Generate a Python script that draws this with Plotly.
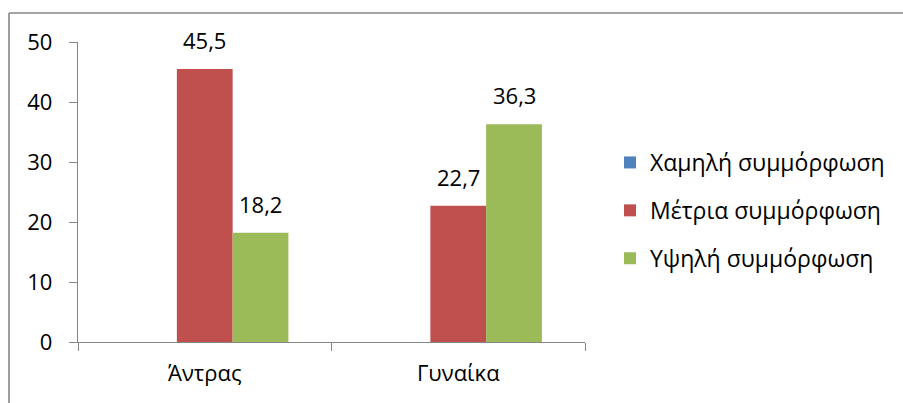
import plotly.graph_objects as go

# Categories and series
categories = ["Άντρας", "Γυναίκα"]
series_names = ["Χαμηλή συμμόρφωση", "Μέτρια συμμόρφωση", "Υψηλή συμμόρφωση"]
low_values = [None, None]
medium_values = [45.5, 22.7]
high_values = [18.2, 36.3]
y_ticks = [0, 10, 20, 30, 40, 50]

colors = ["#4F81BD", "#C0504D", "#9BBB59"]
FONT = "Open Sans"
FS = 22
W, H = 903, 403
ML, MR, MT, MB = 78, 318, 42, 61
BARGAP = 0.34

fig = go.Figure()
all_values = [low_values, medium_values, high_values]
for i, (name, vals, col) in enumerate(zip(series_names, all_values, colors)):
    fig.add_trace(go.Bar(
        x=categories, y=vals, name=name, marker_color=col,
        marker_line_width=0, legendgroup=f"g{i}",
    ))

# Value labels above the bars (formatted with decimal comma)
bar_w = (1 - BARGAP) / 3
for i, vals in enumerate(all_values):
    offset = (i - 1) * bar_w
    for j, v in enumerate(vals):
        if v is None:
            continue
        fig.add_annotation(
            x=j + offset, y=v, text=f"{v:.1f}".replace(".", ","),
            showarrow=False, yanchor="bottom", yshift=12,
            font=dict(family=FONT, size=FS, color="#000000"),
        )

# Outer chart frame (top and left edges)
pw, ph = W - ML - MR, H - MT - MB
def px_x(px):
    return (px - ML) / pw
def px_y(py):
    return (H - MB - py) / ph
frame = dict(color="#868686", width=1.6)
fig.add_shape(type="line", xref="paper", yref="paper",
              x0=px_x(9), x1=px_x(905), y0=px_y(13), y1=px_y(13), line=frame)
fig.add_shape(type="line", xref="paper", yref="paper",
              x0=px_x(9), x1=px_x(9), y0=px_y(13), y1=px_y(410), line=frame)

fig.update_layout(
    width=W, height=H,
    margin=dict(l=ML, r=MR, t=MT, b=MB),
    paper_bgcolor="white", plot_bgcolor="white",
    barmode="group", bargap=BARGAP, bargroupgap=0,
    font=dict(family=FONT, size=FS, color="#000000"),
    showlegend=True,
    legend=dict(
        xref="container", yref="container",
        x=610 / W, y=1 - 141 / H, xanchor="left", yanchor="top",
        tracegroupgap=15, itemclick=False,
        font=dict(family=FONT, size=23, color="#000000"),
    ),
    xaxis=dict(
        type="category", showline=True, linecolor="#868686", linewidth=1.3,
        ticks="outside", tickson="boundaries", ticklen=8, tickcolor="#868686",
        tickwidth=1.3, ticklabelstandoff=11, showgrid=False,
    ),
    yaxis=dict(
        range=[0, 50], tickvals=y_ticks, showline=True, linecolor="#868686",
        linewidth=1.3, ticks="outside", ticklen=8, tickcolor="#868686",
        tickwidth=1.3, showgrid=False, zeroline=False, ticklabelstandoff=12,
    ),
)

fig.write_html("out.html")
